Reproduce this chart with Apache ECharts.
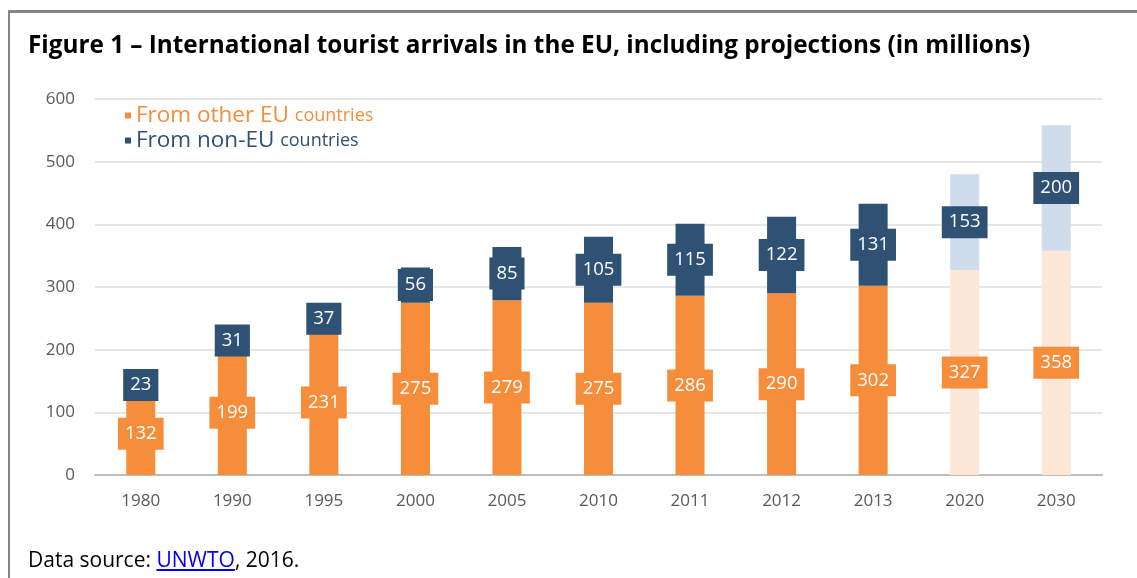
<!DOCTYPE html>
<html>
<head>
<meta charset="utf-8">
<title>International tourist arrivals in the EU</title>
<script src="https://cdn.jsdelivr.net/npm/echarts@6/dist/echarts.min.js"></script>
<style>
  html, body { margin: 0; padding: 0; background: #fff; }
  #wrap { position: relative; width: 1137px; height: 578px; overflow: hidden; }
  #chart { position: absolute; left: 0; top: 0; width: 1137px; height: 578px; }
  #frame { position: absolute; left: 8px; top: 10px; width: 1200px; height: 700px;
           border-left: 2px solid #858585; border-top: 3px solid #858585; box-sizing: border-box; pointer-events: none; }
  #source { position: absolute; left: 28px; top: 545px; font-family: "Open Sans", sans-serif;
            font-size: 21px; color: #000; }
  #source a { color: #0000ee; text-decoration: underline; }
</style>
</head>
<body>
<div id="wrap">
  <div id="chart"></div>
  <div id="frame"></div>
  <div id="source">Data source: <a href="#">UNWTO</a>, 2016.</div>
</div>
<script>
// Years on the category axis; the last two are projections
const years = ['1980', '1990', '1995', '2000', '2005', '2010', '2011', '2012', '2013', '2020', '2030'];
const projectedYears = ['2020', '2030'];
// Arrivals in millions
const fromEU = [132, 199, 231, 275, 279, 275, 286, 290, 302, 327, 358];
const fromNonEU = [23, 31, 37, 56, 85, 105, 115, 122, 131, 153, 200];
const yTicks = { min: 0, max: 600, interval: 100 };

const ORANGE = '#F68D3A';
const ORANGE_LIGHT = '#FDE8D8';
const NAVY = '#2F5173';
const NAVY_LIGHT = '#CFDCEB';
const FONT = '"Open Sans", sans-serif';

function toItems(values, base, light) {
  return values.map((v, i) => ({
    value: v,
    itemStyle: { color: projectedYears.includes(years[i]) ? light : base }
  }));
}

function labelFor(bg) {
  return {
    show: true,
    position: 'inside',
    color: '#fff',
    fontFamily: FONT,
    fontSize: 18.5,
    backgroundColor: bg,
    padding: [7, 7, 7, 7],
    lineHeight: 18
  };
}

const chart = echarts.init(document.getElementById('chart'), null, { renderer: 'canvas' });
chart.setOption({
  animation: false,
  backgroundColor: '#fff',
  title: {
    text: 'Figure 1 – International tourist arrivals in the EU, including projections (in millions)',
    left: 23,
    top: 29,
    textStyle: { fontFamily: FONT, fontWeight: 'bold', fontSize: 24.3, color: '#000' }
  },
  legend: {
    orient: 'vertical',
    left: 120,
    top: 99,
    itemGap: 2,
    itemWidth: 6,
    itemHeight: 6,
    icon: 'rect',
    data: ['From other EU countries', 'From non-EU countries'],
    formatter: function (name) {
      if (name === 'From other EU countries') return '{oa|From other EU }{ob|countries}';
      return '{na|From non-EU }{nb|countries}';
    },
    textStyle: {
      fontFamily: FONT,
      rich: {
        oa: { color: ORANGE, fontSize: 22.5, fontFamily: FONT },
        ob: { color: ORANGE, fontSize: 18, fontFamily: FONT },
        na: { color: NAVY, fontSize: 22.5, fontFamily: FONT },
        nb: { color: NAVY, fontSize: 18, fontFamily: FONT }
      }
    }
  },
  grid: { left: 95, right: 35, top: 99, bottom: 103, containLabel: false },
  xAxis: {
    type: 'category',
    data: years,
    axisTick: { show: false },
    axisLine: { lineStyle: { color: '#BDBDBD', width: 2 } },
    axisLabel: { margin: 18, color: '#595959', fontSize: 17, fontFamily: FONT }
  },
  yAxis: {
    type: 'value',
    min: yTicks.min,
    max: yTicks.max,
    interval: yTicks.interval,
    axisLine: { show: false },
    axisTick: { show: false },
    splitLine: { lineStyle: { color: '#E6E6E6', width: 2 } },
    axisLabel: { margin: 20, color: '#595959', fontSize: 17, fontFamily: FONT }
  },
  series: [
    {
      name: 'From other EU countries',
      type: 'bar',
      stack: 'total',
      barWidth: 29,
      itemStyle: { color: ORANGE },
      label: labelFor(ORANGE),
      data: toItems(fromEU, ORANGE, ORANGE_LIGHT)
    },
    {
      name: 'From non-EU countries',
      type: 'bar',
      stack: 'total',
      barWidth: 29,
      itemStyle: { color: NAVY },
      label: labelFor(NAVY),
      data: toItems(fromNonEU, NAVY, NAVY_LIGHT)
    }
  ]
});
</script>
</body>
</html>
